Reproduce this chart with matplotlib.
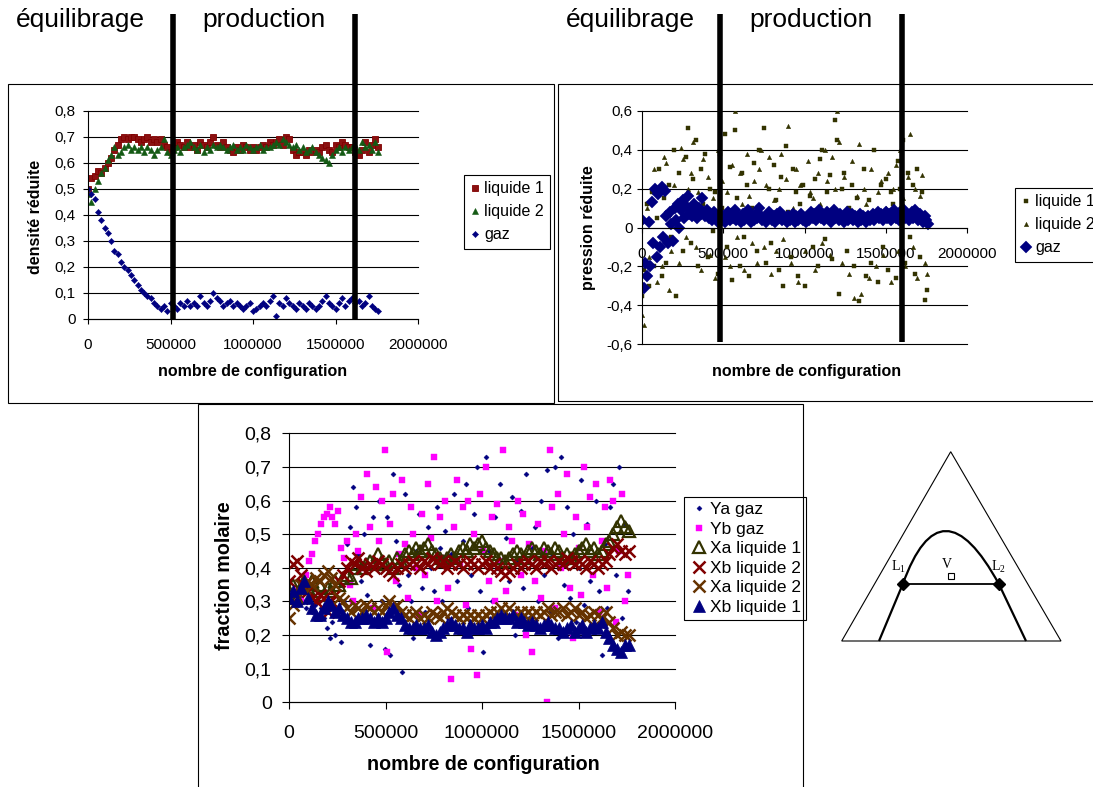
import numpy as np
import matplotlib
matplotlib.use("Agg")
import matplotlib.pyplot as plt
from matplotlib.patches import Rectangle, PathPatch, Polygon
from matplotlib.path import Path
from matplotlib.transforms import blended_transform_factory

plt.rcParams['font.family'] = 'Liberation Sans'

W, H = 1093, 787  # figure size in pixels

# Shared axis ticks
x_ticks = [0, 500000, 1000000, 1500000, 2000000]
x_ticklabels = ['0', '500000', '1000000', '1500000', '2000000']
dens_ticks = [0, 0.1, 0.2, 0.3, 0.4, 0.5, 0.6, 0.7, 0.8]
dens_ticklabels = ['0', '0,1', '0,2', '0,3', '0,4', '0,5', '0,6', '0,7', '0,8']
pres_ticks = [-0.6, -0.4, -0.2, 0, 0.2, 0.4, 0.6]
pres_ticklabels = ['-0,6', '-0,4', '-0,2', '0', '0,2', '0,4', '0,6']

phase_names = ['équilibrage', 'production']
p1_phase_limits = [513000, 1616000]
p2_phase_limits = [480000, 1600000]

# ---- Panel 1 : densité réduite (one point every 20000 configurations) ----
p1_x = np.arange(0, 1760001, 20000)
p1_liquide1 = [0.50, 0.54, 0.55, 0.57, 0.56, 0.58, 0.60, 0.62, 0.65, 0.67,
               0.69, 0.70, 0.69, 0.70, 0.70, 0.69, 0.68, 0.69, 0.70, 0.68,
               0.69, 0.68, 0.69, 0.67, 0.66, 0.64, 0.66, 0.68, 0.67, 0.66,
               0.68, 0.66, 0.67, 0.65, 0.68, 0.67, 0.66, 0.68, 0.70, 0.67,
               0.66, 0.68, 0.66, 0.65, 0.64, 0.66, 0.65, 0.67, 0.66, 0.65,
               0.66, 0.65, 0.66, 0.67, 0.66, 0.68, 0.67, 0.68, 0.69, 0.67,
               0.70, 0.69, 0.65, 0.63, 0.64, 0.64, 0.63, 0.65, 0.64, 0.65,
               0.64, 0.66, 0.67, 0.65, 0.64, 0.67, 0.66, 0.68, 0.67, 0.66,
               0.66, 0.64, 0.63, 0.65, 0.68, 0.64, 0.67, 0.69, 0.66]
p1_liquide2 = [0.48, 0.45, 0.50, 0.53, 0.56, 0.58, 0.61, 0.63, 0.66, 0.63,
               0.64, 0.66, 0.67, 0.65, 0.66, 0.65, 0.66, 0.64, 0.66, 0.65,
               0.63, 0.65, 0.66, 0.69, 0.64, 0.63, 0.65, 0.66, 0.64, 0.66,
               0.67, 0.68, 0.66, 0.65, 0.67, 0.64, 0.66, 0.65, 0.67, 0.66,
               0.67, 0.66, 0.65, 0.66, 0.67, 0.65, 0.66, 0.65, 0.67, 0.66,
               0.65, 0.66, 0.67, 0.65, 0.66, 0.66, 0.67, 0.68, 0.67, 0.69,
               0.68, 0.67, 0.66, 0.67, 0.65, 0.66, 0.64, 0.65, 0.66, 0.64,
               0.63, 0.62, 0.61, 0.60, 0.63, 0.65, 0.66, 0.64, 0.66, 0.65,
               0.66, 0.67, 0.65, 0.68, 0.66, 0.67, 0.65, 0.68, 0.64]
p1_gaz = [0.50, 0.48, 0.46, 0.41, 0.38, 0.35, 0.33, 0.30, 0.26, 0.25,
          0.22, 0.20, 0.19, 0.17, 0.15, 0.13, 0.11, 0.10, 0.09, 0.08,
          0.06, 0.05, 0.04, 0.05, 0.03, 0.06, 0.05, 0.04, 0.06, 0.05,
          0.07, 0.05, 0.06, 0.05, 0.09, 0.06, 0.05, 0.07, 0.10, 0.08,
          0.07, 0.05, 0.06, 0.07, 0.05, 0.06, 0.05, 0.04, 0.05, 0.06,
          0.03, 0.04, 0.05, 0.06, 0.05, 0.07, 0.09, 0.01, 0.06, 0.05,
          0.08, 0.06, 0.05, 0.04, 0.06, 0.05, 0.04, 0.06, 0.05, 0.04,
          0.05, 0.07, 0.09, 0.06, 0.05, 0.04, 0.06, 0.08, 0.05, 0.07,
          0.08, 0.06, 0.07, 0.05, 0.06, 0.09, 0.05, 0.04, 0.03]

# ---- Panel 2 : pression réduite ----
p2_x_liq = np.arange(0, 1755001, 15000)
p2_liquide1 = [-0.35, -0.22, 0.12, -0.30, 0.18, -0.20, 0.05, 0.30, -0.25, 0.15,
               -0.18, 0.22, -0.05, 0.40, -0.35, 0.28, 0.10, -0.12, 0.36, 0.51,
               -0.08, 0.25, 0.45, -0.20, 0.30, 0.12, 0.38, -0.15, 0.20, -0.02,
               0.18, -0.24, 0.38, 0.10, 0.48, -0.10, 0.31, -0.27, 0.50, 0.15,
               -0.20, 0.28, -0.05, 0.22, -0.25, 0.10, 0.33, -0.12, 0.40, 0.05,
               0.51, -0.18, 0.20, -0.08, 0.32, 0.14, -0.22, 0.26, -0.30, 0.42,
               0.08, -0.15, 0.30, 0.18, -0.25, 0.12, 0.22, -0.30, 0.05, 0.16,
               -0.10, 0.25, -0.20, 0.35, 0.40, -0.06, 0.18, 0.27, -0.16, 0.55,
               0.45, -0.34, 0.20, 0.28, -0.12, 0.10, 0.22, -0.20, 0.15, -0.38,
               0.05, 0.30, -0.25, 0.14, -0.18, 0.40, 0.08, -0.28, 0.22, -0.10,
               0.25, -0.22, 0.18, 0.12, -0.26, 0.34, 0.20, 0.45, -0.18, 0.28,
               -0.05, 0.22, -0.24, 0.30, -0.15, 0.18, -0.37, -0.32]
p2_liquide2 = [-0.45, -0.50, 0.10, -0.15, 0.19, 0.30, -0.28, 0.18, -0.20, 0.36,
               0.33, -0.32, -0.12, 0.22, 0.12, -0.18, 0.41, 0.35, -0.05, 0.20,
               0.28, 0.44, -0.10, 0.18, -0.22, 0.35, 0.08, 0.26, -0.14, 0.15,
               -0.26, 0.40, 0.05, 0.24, -0.15, 0.18, -0.20, 0.32, 0.60, -0.05,
               0.28, 0.12, -0.22, 0.38, 0.16, -0.08, 0.24, -0.18, 0.30, 0.40,
               -0.10, 0.22, 0.36, -0.24, 0.14, -0.12, 0.20, 0.38, -0.06, 0.25,
               0.52, -0.18, 0.10, 0.30, -0.28, 0.22, 0.05, -0.12, 0.34, 0.18,
               0.15, -0.22, 0.28, 0.12, -0.08, 0.40, 0.24, -0.14, 0.36, 0.20,
               0.60, 0.44, -0.18, 0.26, 0.10, -0.24, 0.34, -0.36, 0.16, 0.43,
               -0.34, 0.20, 0.12, -0.26, 0.30, 0.06, -0.20, 0.18, 0.24, -0.14,
               0.10, 0.28, -0.28, 0.20, 0.32, -0.12, 0.40, 0.15, -0.20, 0.26,
               0.48, -0.10, 0.20, -0.26, 0.16, 0.27, -0.18, -0.24]
p2_x_gaz = np.arange(0, 1760001, 10000)
p2_gaz = [0.04, -0.31, -0.18, -0.25, 0.03, -0.20, 0.13, -0.08, 0.20, -0.15,
          0.17, -0.10, 0.21, -0.05, 0.19, 0.06, -0.08, 0.08, 0.02, -0.07,
          0.10, 0.04, 0.12, 0.00, 0.09, 0.14, 0.05, 0.11, 0.16, 0.07,
          0.09, 0.06, 0.12, 0.08, 0.05, 0.10, 0.07, 0.15, 0.08, 0.06,
          0.09, 0.05, 0.07, 0.04, 0.08, 0.06, 0.05, 0.03, 0.07, 0.04,
          0.06, 0.03, 0.05, 0.08, 0.04, 0.07, 0.05, 0.09, 0.04, 0.06,
          0.05, 0.03, 0.07, 0.04, 0.06, 0.09, 0.05, 0.03, 0.06, 0.04,
          0.07, 0.05, 0.10, 0.06, 0.04, 0.05, 0.03, 0.06, 0.08, 0.05,
          0.04, 0.06, 0.03, 0.07, 0.05, 0.08, 0.04, 0.06, 0.05, 0.03,
          0.06, 0.04, 0.05, 0.07, 0.03, 0.06, 0.04, 0.05, 0.07, 0.04,
          0.05, 0.03, 0.06, 0.04, 0.08, 0.05, 0.07, 0.04, 0.06, 0.09,
          0.05, 0.07, 0.04, 0.06, 0.08, 0.05, 0.03, 0.06, 0.09, 0.05,
          0.06, 0.04, 0.07, 0.05, 0.03, 0.06, 0.08, 0.04, 0.05, 0.07,
          0.04, 0.06, 0.05, 0.03, 0.07, 0.04, 0.06, 0.05, 0.03, 0.06,
          0.04, 0.05, 0.07, 0.04, 0.06, 0.08, 0.05, 0.07, 0.04, 0.06,
          0.08, 0.05, 0.07, 0.04, 0.06, 0.09, 0.05, 0.07, 0.04, 0.08,
          0.06, 0.09, 0.05, 0.07, 0.04, 0.06, 0.08, 0.05, 0.09, 0.06,
          0.04, 0.07, 0.05, 0.03, 0.06, 0.04, 0.02]

# ---- Panel 3 : fraction molaire ----
p3_x_gaz = np.arange(0, 1755001, 15000)
p3_ya_gaz = [0.31, 0.30, 0.32, 0.29, 0.31, 0.30, 0.28, 0.30, 0.27, 0.29,
             0.26, 0.28, 0.25, 0.22, 0.19, 0.24, 0.20, 0.26, 0.18, 0.30,
             0.47, 0.52, 0.64, 0.58, 0.44, 0.36, 0.50, 0.32, 0.17, 0.55,
             0.42, 0.60, 0.30, 0.16, 0.55, 0.14, 0.68, 0.48, 0.35, 0.09,
             0.62, 0.38, 0.30, 0.19, 0.45, 0.56, 0.34, 0.27, 0.52, 0.40,
             0.33, 0.58, 0.46, 0.30, 0.51, 0.25, 0.44, 0.62, 0.36, 0.22,
             0.48, 0.65, 0.28, 0.38, 0.56, 0.70, 0.33, 0.15, 0.73, 0.45,
             0.30, 0.55, 0.40, 0.65, 0.26, 0.49, 0.36, 0.61, 0.20, 0.42,
             0.57, 0.34, 0.68, 0.25, 0.46, 0.52, 0.30, 0.60, 0.38, 0.69,
             0.27, 0.44, 0.70, 0.19, 0.73, 0.35, 0.58, 0.31, 0.50, 0.24,
             0.40, 0.66, 0.29, 0.53, 0.36, 0.22, 0.60, 0.33, 0.14, 0.47,
             0.28, 0.58, 0.65, 0.38, 0.70, 0.25, 0.53, 0.33]
p3_yb_gaz = [0.31, 0.30, 0.33, 0.32, 0.30, 0.34, 0.38, 0.42, 0.44, 0.48,
             0.50, 0.53, 0.55, 0.56, 0.58, 0.55, 0.53, 0.57, 0.46, 0.43,
             0.48, 0.35, 0.30, 0.50, 0.45, 0.61, 0.40, 0.68, 0.52, 0.28,
             0.64, 0.48, 0.60, 0.75, 0.15, 0.53, 0.62, 0.36, 0.44, 0.66,
             0.47, 0.31, 0.58, 0.50, 0.40, 0.26, 0.56, 0.38, 0.65, 0.49,
             0.73, 0.30, 0.55, 0.43, 0.60, 0.34, 0.07, 0.52, 0.66, 0.41,
             0.58, 0.29, 0.60, 0.16, 0.50, 0.08, 0.62, 0.45, 0.70, 0.36,
             0.55, 0.30, 0.59, 0.42, 0.75, 0.33, 0.52, 0.48, 0.26, 0.60,
             0.38, 0.56, 0.20, 0.47, 0.15, 0.36, 0.53, 0.31, 0.45, 0.00,
             0.75, 0.58, 0.28, 0.62, 0.40, 0.50, 0.68, 0.34, 0.19, 0.55,
             0.46, 0.32, 0.70, 0.52, 0.61, 0.38, 0.65, 0.27, 0.48, 0.58,
             0.34, 0.66, 0.60, 0.24, 0.45, 0.62, 0.30, 0.38]
p3_x = np.arange(0, 1760001, 20000)
p3_xa_liquide1 = [0.33, 0.35, 0.31, 0.34, 0.36, 0.34, 0.36, 0.33, 0.35, 0.32,
                  0.34, 0.33, 0.36, 0.35, 0.37, 0.38, 0.37, 0.40, 0.41, 0.40,
                  0.41, 0.42, 0.41, 0.44, 0.42, 0.41, 0.42, 0.40, 0.43, 0.42,
                  0.44, 0.45, 0.44, 0.46, 0.45, 0.46, 0.47, 0.45, 0.44, 0.43,
                  0.42, 0.43, 0.44, 0.43, 0.45, 0.46, 0.45, 0.47, 0.46, 0.47,
                  0.48, 0.46, 0.45, 0.44, 0.43, 0.43, 0.42, 0.43, 0.44, 0.45,
                  0.44, 0.43, 0.45, 0.46, 0.45, 0.44, 0.46, 0.45, 0.44, 0.46,
                  0.45, 0.43, 0.44, 0.43, 0.44, 0.45, 0.46, 0.47, 0.45, 0.46,
                  0.44, 0.45, 0.47, 0.48, 0.50, 0.52, 0.54, 0.52, 0.51]
p3_xb_liquide2 = [0.36, 0.41, 0.42, 0.38, 0.35, 0.33, 0.31, 0.30, 0.32, 0.31,
                  0.27, 0.30, 0.32, 0.36, 0.38, 0.40, 0.42, 0.41, 0.43, 0.40,
                  0.39, 0.41, 0.40, 0.42, 0.41, 0.40, 0.39, 0.38, 0.40, 0.41,
                  0.40, 0.41, 0.42, 0.41, 0.40, 0.42, 0.41, 0.43, 0.42, 0.41,
                  0.42, 0.40, 0.41, 0.42, 0.41, 0.40, 0.41, 0.42, 0.41, 0.40,
                  0.41, 0.42, 0.40, 0.41, 0.40, 0.39, 0.38, 0.39, 0.40, 0.41,
                  0.40, 0.41, 0.42, 0.41, 0.40, 0.42, 0.41, 0.42, 0.40, 0.41,
                  0.42, 0.41, 0.43, 0.42, 0.41, 0.42, 0.41, 0.40, 0.42, 0.41,
                  0.40, 0.41, 0.42, 0.44, 0.46, 0.47, 0.45, 0.44, 0.45]
p3_xa_liquide2 = [0.25, 0.29, 0.31, 0.35, 0.34, 0.36, 0.35, 0.37, 0.36, 0.38,
                  0.39, 0.37, 0.35, 0.31, 0.30, 0.28, 0.27, 0.29, 0.28, 0.27,
                  0.29, 0.28, 0.27, 0.28, 0.27, 0.29, 0.30, 0.28, 0.29, 0.27,
                  0.26, 0.25, 0.26, 0.27, 0.25, 0.26, 0.25, 0.27, 0.26, 0.25,
                  0.27, 0.28, 0.27, 0.26, 0.25, 0.26, 0.25, 0.26, 0.25, 0.26,
                  0.25, 0.26, 0.27, 0.26, 0.27, 0.28, 0.27, 0.28, 0.27, 0.26,
                  0.27, 0.26, 0.27, 0.26, 0.27, 0.26, 0.27, 0.28, 0.26, 0.27,
                  0.27, 0.28, 0.26, 0.27, 0.28, 0.26, 0.27, 0.25, 0.26, 0.27,
                  0.26, 0.25, 0.27, 0.24, 0.22, 0.20, 0.21, 0.20, 0.20]
p3_xb_liquide1 = [0.31, 0.33, 0.30, 0.34, 0.36, 0.31, 0.28, 0.26, 0.26, 0.28,
                  0.30, 0.29, 0.27, 0.28, 0.26, 0.25, 0.24, 0.24, 0.25, 0.25,
                  0.26, 0.25, 0.24, 0.25, 0.24, 0.25, 0.27, 0.28, 0.26, 0.25,
                  0.23, 0.22, 0.22, 0.23, 0.22, 0.22, 0.23, 0.21, 0.20, 0.21,
                  0.22, 0.23, 0.24, 0.23, 0.22, 0.22, 0.21, 0.23, 0.22, 0.22,
                  0.23, 0.22, 0.24, 0.24, 0.25, 0.26, 0.25, 0.25, 0.26, 0.24,
                  0.25, 0.24, 0.23, 0.24, 0.23, 0.22, 0.23, 0.24, 0.23, 0.22,
                  0.22, 0.21, 0.22, 0.23, 0.21, 0.22, 0.23, 0.21, 0.22, 0.23,
                  0.22, 0.24, 0.21, 0.19, 0.17, 0.16, 0.15, 0.17, 0.17]

# ---- Ternary sketch (drawing in pixel units of the picture) ----
triangle_x = [950.7, 841.7, 1061.0]
triangle_y = [451.7, 641.0, 641.0]
binodal_pts = [(879.0, 641.0), (902.7, 584.3), (941.0, 477.7), (999.0, 584.3), (1026.0, 641.0)]
tie_x = [902.7, 999.0]
tie_y = [584.3, 584.3]
vapour_pt = (950.7, 576.0)


fig = plt.figure(figsize=(W / 100, H / 100), dpi=100)


def make_axes(l, t, r, b):
    # axes placed with pixel edges (left, top, right, bottom)
    return fig.add_axes([l / W, 1 - b / H, (r - l) / W, (b - t) / H])


def frame(l, t, r, b):
    fig.add_artist(Rectangle((l / W, 1 - b / H), (r - l) / W, (b - t) / H,
                             transform=fig.transFigure, fill=False, lw=0.8, ec='black'))


def style_axes(ax, yticks, yticklabels, ylim, size, tick_len, xpad, ypad):
    ax.set_xlim(0, 2000000)
    ax.set_ylim(*ylim)
    ax.set_xticks(x_ticks)
    ax.set_xticklabels(x_ticklabels)
    ax.set_yticks(yticks)
    ax.set_yticklabels(yticklabels)
    ax.yaxis.grid(True, color='black', linewidth=0.8)
    for gl in ax.get_ygridlines():
        gl.set_clip_on(False)  # keep the edge gridlines fully visible
    for side in ['top', 'right']:
        ax.spines[side].set_visible(False)
    for side in ['left', 'bottom']:
        ax.spines[side].set_linewidth(0.8)
    ax.tick_params(axis='both', direction='out', length=tick_len, width=0.8, labelsize=size)
    ax.tick_params(axis='x', pad=xpad)
    ax.tick_params(axis='y', pad=ypad)


def place_labels(ax, xlabel, ylabel, size, xpos, ypos):
    ax.set_xlabel(xlabel, fontsize=size, fontweight='bold')
    ax.set_ylabel(ylabel, fontsize=size, fontweight='bold')
    ax.xaxis.set_label_coords(*xpos)
    ax.yaxis.set_label_coords(*ypos)
    ax.xaxis.label.set_va('center')
    ax.yaxis.label.set_va('center')


def add_legend(ax, left, top, size, spacing, hlen, hpad, bpad):
    leg = ax.legend(loc='upper left', bbox_to_anchor=(left / W, 1 - top / H),
                    bbox_transform=fig.transFigure, borderaxespad=0, fontsize=size,
                    fancybox=False, framealpha=1, edgecolor='black',
                    labelspacing=spacing, handlelength=hlen, handletextpad=hpad,
                    borderpad=bpad)
    leg.get_frame().set_linewidth(0.8)


def phase_lines(ax, xs, bottom_px):
    trans = blended_transform_factory(ax.transData, fig.transFigure)
    for xv in xs:
        ax.plot([xv, xv], [1 - 14 / H, 1 - bottom_px / H], transform=trans, color='black',
                lw=4, clip_on=False, zorder=10, solid_capstyle='butt')


# Frames around each chart
frame(8, 84, 554, 403)
frame(558, 84, 1100, 401)
frame(198, 404, 803, 800)

# Phase headers
fig.text(80 / W, 1 - 20 / H, phase_names[0], fontsize=19, ha='center', va='center')
fig.text(264 / W, 1 - 20 / H, phase_names[1], fontsize=19, ha='center', va='center')
fig.text(630 / W, 1 - 20 / H, phase_names[0], fontsize=19, ha='center', va='center')
fig.text(811 / W, 1 - 20 / H, phase_names[1], fontsize=19, ha='center', va='center')

# Panel 1
ax1 = make_axes(88, 110.7, 418, 319)
ax1.plot(p1_x, p1_liquide1, 's', color='#8B1010', ms=4.6, mew=0.6, mec='#800000', label='liquide 1')
ax1.plot(p1_x, p1_liquide2, '^', color='#145A14', ms=5, mew=0.4, label='liquide 2')
ax1.plot(p1_x, p1_gaz, 'D', color='#000080', ms=3.2, mew=0.3, label='gaz')
style_axes(ax1, dens_ticks, dens_ticklabels, (0, 0.8), 11, 3.3, 10.2, 5.5)
place_labels(ax1, 'nombre de configuration', 'densité réduite', 11.5,
             (0.5, -0.254), (-0.159, 0.492))
add_legend(ax1, 464, 175, 11.5, 0.5, 0.6, 0.25, 0.4)
phase_lines(ax1, p1_phase_limits, 319)

# Panel 2
ax2 = make_axes(642, 110.7, 967, 344.3)
ax2.plot(p2_x_liq, p2_liquide1, 's', color='#333300', ms=3.2, mew=0.3, label='liquide 1')
ax2.plot(p2_x_liq, p2_liquide2, '^', color='#333300', ms=3.2, mew=0.3, label='liquide 2')
ax2.plot(p2_x_gaz, p2_gaz, 'D', color='#000080', ms=6.5, mew=0.3, label='gaz')
style_axes(ax2, pres_ticks, pres_ticklabels, (-0.6, 0.6), 11, 3.3, 10.7, 3.2)
ax2.spines['bottom'].set_position(('data', 0))
place_labels(ax2, 'nombre de configuration', 'pression réduite', 11.5,
             (0.507, -0.117), (-0.166, 0.5))
add_legend(ax2, 1015, 188, 11.5, 0.5, 0.6, 0.25, 0.4)
phase_lines(ax2, p2_phase_limits, 342)

# Panel 3
ax3 = make_axes(289, 433.3, 675, 702.3)
ax3.plot(p3_x_gaz, p3_ya_gaz, 'D', color='#000080', ms=2.6, mew=0.3, label='Ya gaz')
ax3.plot(p3_x_gaz, p3_yb_gaz, 's', color='#FF00FF', ms=3.8, mew=0.3, label='Yb gaz')
ax3.plot(p3_x, p3_xa_liquide1, '^', mfc='none', mec='#333300', ms=8.5, mew=1.6, label='Xa liquide 1')
ax3.plot(p3_x, p3_xb_liquide2, 'x', color='#800000', ms=8.5, mew=1.8, label='Xb liquide 2')
ax3.plot(p3_x, p3_xa_liquide2, 'x', color='#663300', ms=8.5, mew=1.8, label='Xa liquide 2')
ax3.plot(p3_x, p3_xb_liquide1, '^', color='#000080', ms=8.5, mew=0.5, label='Xb liquide 1')
style_axes(ax3, dens_ticks, dens_ticklabels, (0, 0.8), 14, 4.8, 11.5, 7.7)
place_labels(ax3, 'nombre de configuration', 'fraction molaire', 14.2,
             (0.503, -0.233), (-0.166, 0.47))
add_legend(ax3, 684, 497, 12.5, 0.25, 1.1, 0.1, 0.3)

# Ternary sketch
ax4 = make_axes(830, 440, 1093, 650)
ax4.set_xlim(830, 1093)
ax4.set_ylim(650, 440)
ax4.axis('off')
ax4.add_patch(Polygon(list(zip(triangle_x, triangle_y)), closed=True, fill=False, lw=0.8, ec='black'))
codes = [Path.MOVETO, Path.LINETO, Path.CURVE3, Path.CURVE3, Path.LINETO]
ax4.add_patch(PathPatch(Path(binodal_pts, codes), fill=False, lw=1.6, ec='black'))
ax4.plot(tie_x, tie_y, '-', color='black', lw=1.3)
ax4.plot(tie_x, tie_y, 'D', color='black', ms=6)
ax4.plot([vapour_pt[0]], [vapour_pt[1]], 's', mfc='white', mec='black', ms=4, mew=0.8)
ax4.text(898, 567, r'$\mathregular{L_1}$', fontfamily='Liberation Serif', fontsize=10,
         ha='center', va='center')
ax4.text(998, 567, r'$\mathregular{L_2}$', fontfamily='Liberation Serif', fontsize=10,
         ha='center', va='center')
ax4.text(947, 564, 'V', fontfamily='Liberation Serif', fontsize=10, ha='center', va='center')

fig.savefig('out.png', dpi=100)
